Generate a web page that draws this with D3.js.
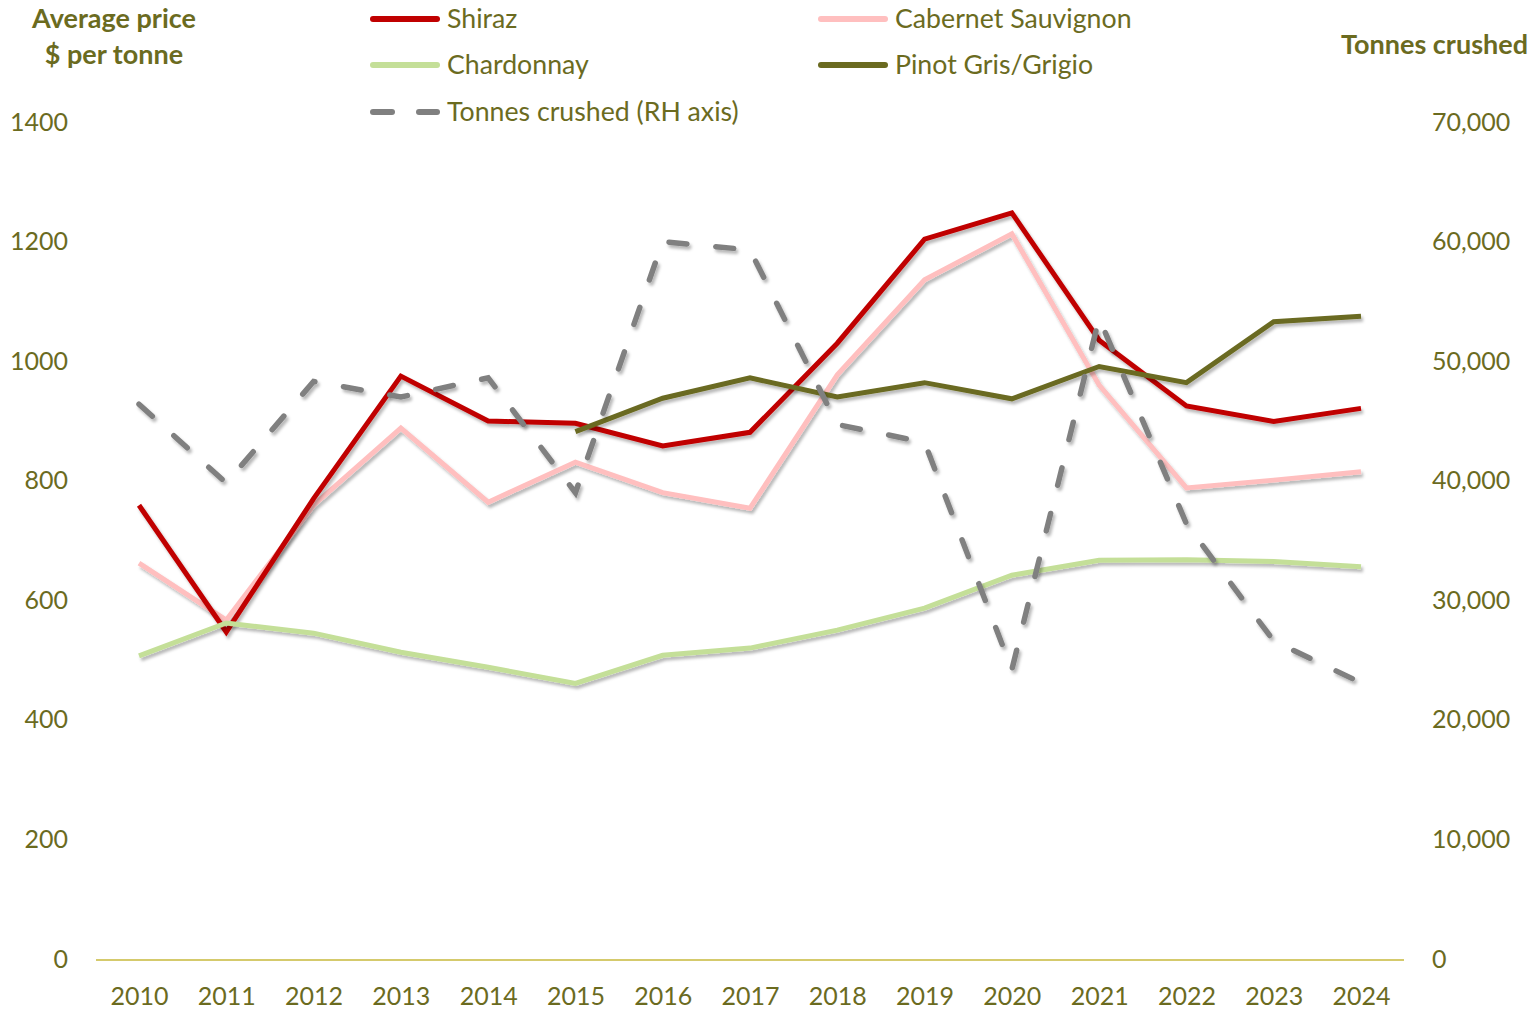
<!DOCTYPE html>
<html>
<head>
<meta charset="utf-8">
<script src="https://cdn.jsdelivr.net/npm/d3@7"></script>
<style>
  html, body { margin: 0; padding: 0; background: #fff; }
  svg { display: block; }
  text { font-family: Lato, "Open Sans", sans-serif; fill: #6B6B1F; }
</style>
</head>
<body>
<svg id="chart" width="1539" height="1010"></svg>
<script>
// ---- data ----
const years = [2010, 2011, 2012, 2013, 2014, 2015, 2016, 2017, 2018, 2019, 2020, 2021, 2022, 2023, 2024];
const shiraz     = [759, 547, 770, 975, 900, 896, 858, 881, 1030, 1204, 1248, 1035, 925, 899, 921];
const cabernet   = [662, 567, 759, 888, 764, 831, 780, 754, 977, 1136, 1213, 960, 788, 801, 815];
const chardonnay = [507, 562, 545, 513, 488, 461, 508, 520, 550, 587, 642, 667, 668, 665, 656];
const pinotGris  = [null, null, null, null, null, 882, 938, 972, 940, 964, 937, 991, 964, 1066, 1075];
const tonnes     = [46400, 39800, 48300, 47000, 48600, 39000, 60000, 59300, 44700, 43200, 24200, 53600, 36400, 26600, 23100];
const priceTicks  = [0, 200, 400, 600, 800, 1000, 1200, 1400];
const tonnesTicks = [0, 10000, 20000, 30000, 40000, 50000, 60000, 70000];
const seriesNames = ["Shiraz", "Cabernet Sauvignon", "Chardonnay", "Pinot Gris/Grigio", "Tonnes crushed (RH axis)"];
const seriesColors = ["#C00000", "#FFBFBF", "#C4DF98", "#6A6A20", "#808080"];

const svg = d3.select("#chart");
const textColor = "#6B6B1F";

// shadow filter
const defs = svg.append("defs");
const f = defs.append("filter").attr("id", "shadow").attr("x", "-5%").attr("y", "-5%").attr("width", "110%").attr("height", "115%");
f.append("feDropShadow").attr("dx", 2).attr("dy", 3).attr("stdDeviation", 1.6)
  .attr("flood-color", "#000").attr("flood-opacity", 0.28);

const x = d3.scalePoint().domain(years).range([139, 1361]);
const yL = d3.scaleLinear().domain([0, 1400]).range([959, 122]);
const yR = d3.scaleLinear().domain([0, 70000]).range([959, 122]);

// axes
const axL = svg.append("g").attr("transform", "translate(68,0)")
  .call(d3.axisLeft(yL).tickValues(priceTicks).tickSize(0).tickPadding(0).tickFormat(d3.format("d")));
const axR = svg.append("g").attr("transform", "translate(1432,0)")
  .call(d3.axisRight(yR).tickValues(tonnesTicks).tickSize(0).tickPadding(0).tickFormat(d3.format(",")));
const axB = svg.append("g").attr("transform", "translate(0,959)")
  .call(d3.axisBottom(x).tickSize(0).tickPadding(28).tickFormat(d3.format("d")));
[axL, axR, axB].forEach(g => {
  g.select(".domain").remove();
  g.selectAll("text").attr("fill", textColor).style("font-size", "25px").style("font-family", "Lato, sans-serif");
});

// baseline
svg.append("line").attr("x1", 96).attr("x2", 1404).attr("y1", 960).attr("y2", 960)
  .attr("stroke", "#D5CA6C").attr("stroke-width", 2);

// lines
const mk = (yScale) => d3.line().defined(d => d[1] != null).x(d => x(d[0])).y(d => yScale(d[1]));
const series = [
  { vals: shiraz, color: seriesColors[0], scale: yL, w: 5 },
  { vals: cabernet, color: seriesColors[1], scale: yL, w: 5 },
  { vals: chardonnay, color: seriesColors[2], scale: yL, w: 5 },
  { vals: pinotGris, color: seriesColors[3], scale: yL, w: 5 },
  { vals: tonnes, color: seriesColors[4], scale: yR, dash: "18,29", w: 5.5 }
];
const order = [1, 0, 2, 3, 4];
order.forEach(i => {
  const s = series[i];
  svg.append("path")
    .datum(years.map((yr, k) => [yr, s.vals[k]]))
    .attr("d", mk(s.scale))
    .attr("fill", "none")
    .attr("stroke", s.color)
    .attr("stroke-width", s.w)
    .attr("stroke-linejoin", "miter")
    .attr("stroke-linecap", s.dash ? "round" : "butt")
    .attr("stroke-dasharray", s.dash || null)
    .attr("filter", "url(#shadow)");
});

// legend
const legend = [
  { name: seriesNames[0], color: seriesColors[0], x: 370, y: 19 },
  { name: seriesNames[2], color: seriesColors[2], x: 370, y: 65 },
  { name: seriesNames[4], color: seriesColors[4], x: 370, y: 112, dash: true },
  { name: seriesNames[1], color: seriesColors[1], x: 818, y: 19 },
  { name: seriesNames[3], color: seriesColors[3], x: 818, y: 65 }
];
legend.forEach(l => {
  const g = svg.append("g");
  if (l.dash) {
    g.append("line").attr("x1", l.x + 3).attr("x2", l.x + 22).attr("y1", l.y).attr("y2", l.y)
      .attr("stroke", l.color).attr("stroke-width", 6).attr("stroke-linecap", "round");
    g.append("line").attr("x1", l.x + 49).attr("x2", l.x + 67).attr("y1", l.y).attr("y2", l.y)
      .attr("stroke", l.color).attr("stroke-width", 6).attr("stroke-linecap", "round");
  } else {
    g.append("line").attr("x1", l.x + 3).attr("x2", l.x + 67).attr("y1", l.y).attr("y2", l.y)
      .attr("stroke", l.color).attr("stroke-width", 6).attr("stroke-linecap", "round");
  }
  g.append("text").attr("x", l.x + 77).attr("y", l.y).attr("dy", "0.35em")
    .style("font-size", "26.7px").attr("fill", textColor).text(l.name);
});

// axis titles
svg.append("text").attr("x", 114).attr("y", 19).attr("dy", "0.35em").attr("text-anchor", "middle")
  .style("font-size", "27px").style("font-weight", "bold").attr("fill", textColor).text("Average price");
svg.append("text").attr("x", 114).attr("y", 55).attr("dy", "0.35em").attr("text-anchor", "middle")
  .style("font-size", "27px").style("font-weight", "bold").attr("fill", textColor).text("$ per tonne");
svg.append("text").attr("x", 1528).attr("y", 45).attr("dy", "0.35em").attr("text-anchor", "end")
  .style("font-size", "27px").style("font-weight", "bold").attr("fill", textColor).text("Tonnes crushed");
</script>
</body>
</html>
